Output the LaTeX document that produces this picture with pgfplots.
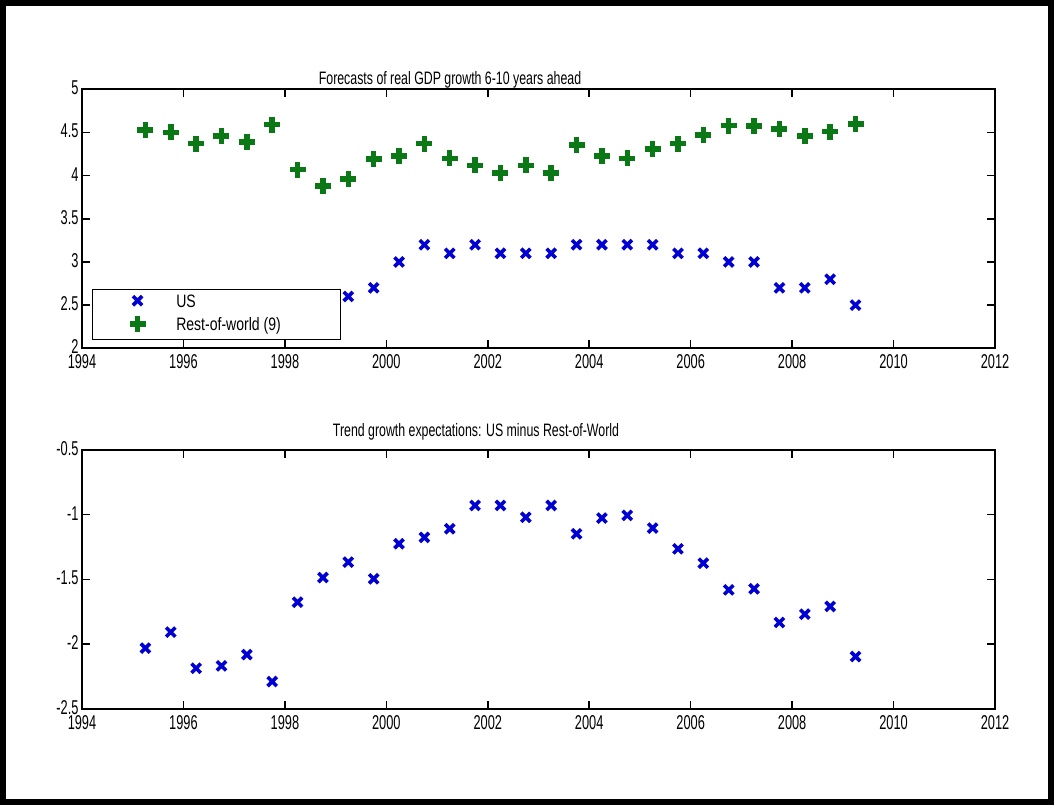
\documentclass[border=0pt]{standalone}
\usepackage{pgfplots}
\pgfplotsset{compat=1.18}
\usepackage{fontspec}
\setmainfont{Liberation Sans}[FakeStretch=0.78]
\newfontfamily\tickfont{Liberation Sans}[FakeStretch=0.64]
\usepackage{graphicx}
\definecolor{usblue}{RGB}{0,0,210}
\definecolor{rowgreen}{RGB}{10,120,20}

\pgfplotstableread{
x y
1999.25 2.6
1999.75 2.7
2000.25 3.0
2000.75 3.2
2001.25 3.1
2001.75 3.2
2002.25 3.1
2002.75 3.1
2003.25 3.1
2003.75 3.2
2004.25 3.2
2004.75 3.2
2005.25 3.2
2005.75 3.1
2006.25 3.1
2006.75 3.0
2007.25 3.0
2007.75 2.7
2008.25 2.7
2008.75 2.8
2009.25 2.5
}\usdata

\pgfplotstableread{
x y
1995.25 4.53
1995.75 4.50
1996.25 4.37
1996.75 4.46
1997.25 4.39
1997.75 4.59
1998.25 4.07
1998.75 3.88
1999.25 3.96
1999.75 4.19
2000.25 4.23
2000.75 4.37
2001.25 4.20
2001.75 4.12
2002.25 4.03
2002.75 4.12
2003.25 4.03
2003.75 4.355
2004.25 4.23
2004.75 4.20
2005.25 4.31
2005.75 4.37
2006.25 4.47
2006.75 4.58
2007.25 4.575
2007.75 4.54
2008.25 4.46
2008.75 4.51
2009.25 4.60
}\rowdata

\pgfplotstableread{
x y
1995.25 -2.03
1995.75 -1.906
1996.25 -2.185
1996.75 -2.167
1997.25 -2.08
1997.75 -2.288
1998.25 -1.675
1998.75 -1.485
1999.25 -1.366
1999.75 -1.495
2000.25 -1.224
2000.75 -1.175
2001.25 -1.108
2001.75 -0.928
2002.25 -0.928
2002.75 -1.02
2003.25 -0.928
2003.75 -1.147
2004.25 -1.026
2004.75 -1.005
2005.25 -1.103
2005.75 -1.263
2006.25 -1.374
2006.75 -1.58
2007.25 -1.572
2007.75 -1.832
2008.25 -1.768
2008.75 -1.708
2009.25 -2.095
}\diffdata

\pgfplotsset{
  myaxis/.style={
    scale only axis, width=913pt, height=259pt,
    anchor=south west,
    xmin=1994, xmax=2012, xtick={1994,1996,1998,2000,2002,2004,2006,2008,2010,2012},
    axis line style={line width=1.8pt},
    major tick length=8pt,
    every tick/.style={line width=1.5pt, black},
    tick align=inside,
    tick label style={font=\tickfont\fontsize{20}{21}\selectfont},
    xticklabel style={yshift=-3pt},
    yticklabel style={yshift=1.5pt},
    /pgf/number format/assume math mode=true,
    /pgf/number format/1000 sep={},
    clip=false,
  },
  usstyle/.style={only marks, mark=x, mark size=6.5pt, color=usblue, line width=3.6pt},
  rowstyle/.style={only marks, mark=+, mark size=8pt, color=rowgreen, line width=5.5pt},
}

\begin{document}
\begin{tikzpicture}[x=1pt,y=1pt]
\useasboundingbox (0,0) rectangle (1054,805);
\fill[white] (0,0) rectangle (1054,805);

\begin{axis}[myaxis, at={(82pt,456.7pt)},
  ymin=2, ymax=5, ytick={2,2.5,3,3.5,4,4.5,5},
  legend style={at={(0.0106,0.032)}, anchor=south west, draw=black, line width=1.2pt,
    inner xsep=0pt, inner ysep=5pt, row sep=4.7pt, column sep=14pt,
    font=\fontsize{18}{20}\selectfont,
    nodes={inner sep=0pt, text height=13pt, text depth=4pt},
    cells={anchor=west}},
  legend image code/.code={\path[draw=none,fill=none] (0pt,-6pt) rectangle (70pt,6pt); \draw[#1,only marks] plot coordinates {(45.3pt,2pt)};},
]
\addplot[usstyle] table[x=x,y=y] {\usdata};
\addlegendentry{\makebox[164pt][l]{US}}
\addplot[rowstyle] table[x=x,y=y] {\rowdata};
\addlegendentry{\makebox[164pt][l]{Rest-of-world (9)}}
\end{axis}

\begin{axis}[myaxis, at={(82pt,96pt)},
  ymin=-2.5, ymax=-0.5, ytick={-2.5,-2,-1.5,-1,-0.5},
]
\addplot[usstyle] table[x=x,y=y] {\diffdata};
\end{axis}

\node[anchor=base, font=\fontsize{18}{20}\selectfont] at (450,720.7) {\scalebox{0.88}[1]{Forecasts of real GDP growth 6-10 years ahead}};
\node[anchor=base, font=\fontsize{18}{20}\selectfont] at (476,368.3) {\scalebox{0.88}[1]{Trend growth expectations: US minus Rest-of-World}};

\draw[line width=6pt] (3,3) rectangle (1051,802);
\end{tikzpicture}
\end{document}
